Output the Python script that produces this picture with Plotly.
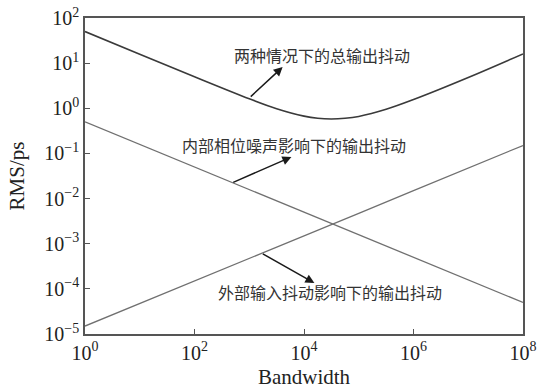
import plotly.graph_objects as go

# Data (Bandwidth vs RMS jitter, ps)
bw_total = [1, 10, 100, 1e3, 10**3.5, 1e4, 10**4.25, 10**4.5, 10**4.75, 1e5, 10**5.5, 1e6, 1e7, 1e8]
rms_total = [50, 15.8, 5.0, 1.63, 0.98, 0.67, 0.6, 0.58, 0.6, 0.66, 0.95, 1.56, 4.8, 16.0]

bw_line = [1, 10, 100, 1e3, 1e4, 1e5, 1e6, 1e7, 1e8]
rms_internal = [0.5, 0.158, 0.05, 0.0158, 0.005, 0.00158, 0.0005, 0.000158, 0.00005]
rms_external = [1.5e-5, 4.7e-5, 1.5e-4, 4.7e-4, 1.5e-3, 4.7e-3, 0.015, 0.047, 0.15]

x_tickvals = [1, 1e2, 1e4, 1e6, 1e8]
x_ticktext = ["10<sup>0</sup>", "10<sup>2</sup>", "10<sup>4</sup>", "10<sup>6</sup>", "10<sup>8</sup>"]
y_tickvals = [1e-5, 1e-4, 1e-3, 1e-2, 1e-1, 1, 10, 100]
y_ticktext = ["10<sup>−5</sup>", "10<sup>−4</sup>", "10<sup>−3</sup>", "10<sup>−2</sup>",
              "10<sup>−1</sup>", "10<sup>0</sup>", "10<sup>1</sup>", "10<sup>2</sup>"]

labels = ["两种情况下的总输出抖动", "内部相位噪声影响下的输出抖动", "外部输入抖动影响下的输出抖动"]

fig = go.Figure()
fig.add_trace(go.Scatter(x=bw_total, y=rms_total, mode="lines",
                         line=dict(color="#3a3a3a", width=1.6, shape="spline"), showlegend=False))
fig.add_trace(go.Scatter(x=bw_line, y=rms_internal, mode="lines",
                         line=dict(color="#707070", width=1.3), showlegend=False))
fig.add_trace(go.Scatter(x=bw_line, y=rms_external, mode="lines",
                         line=dict(color="#707070", width=1.3), showlegend=False))

cjk = dict(family="Noto Sans CJK SC", size=16, color="#333333")

# arrows: (tip_x, tip_y, tail_x, tail_y) in log10 units
arrows = [(3.61, 0.914, 3.00, 0.228),
          (3.77, -1.079, 2.68, -1.655),
          (4.19, -3.871, 3.22, -3.206)]
for tx, ty, sx, sy in arrows:
    fig.add_annotation(x=tx, y=ty, ax=sx, ay=sy, xref="x", yref="y", axref="x", ayref="y",
                       text="", showarrow=True, arrowhead=2, arrowsize=1.2, arrowwidth=1.5,
                       arrowcolor="#1a1a1a")

text_pos = [(2.68, 1.18), (1.744, -0.813), (2.40, -4.07)]
for (px, py), lab in zip(text_pos, labels):
    fig.add_annotation(x=px, y=py, xref="x", yref="y", text=lab, showarrow=False,
                       xanchor="left", yanchor="middle", font=cjk)

axis_common = dict(showline=True, linecolor="#555555", linewidth=1.5, mirror=True,
                   ticks="inside", ticklen=5, tickcolor="#555555", showgrid=False,
                   zeroline=False, automargin=False,
                   tickfont=dict(family="Liberation Serif", size=20, color="#222222"))

fig.update_xaxes(type="log", range=[0, 8], tickvals=x_tickvals, ticktext=x_ticktext,
                 title=dict(text="Bandwidth", font=dict(family="Liberation Serif", size=21, color="#222222"),
                            standoff=8), **axis_common)
fig.update_yaxes(type="log", range=[-5, 2], tickvals=y_tickvals, ticktext=y_ticktext,
                 title=dict(text="RMS/ps", font=dict(family="Liberation Serif", size=21, color="#222222"),
                            standoff=14), **axis_common)

fig.update_layout(width=540, height=389, margin=dict(l=85, r=17, t=18, b=55),
                  plot_bgcolor="white", paper_bgcolor="white")

fig.write_html("out.html")
